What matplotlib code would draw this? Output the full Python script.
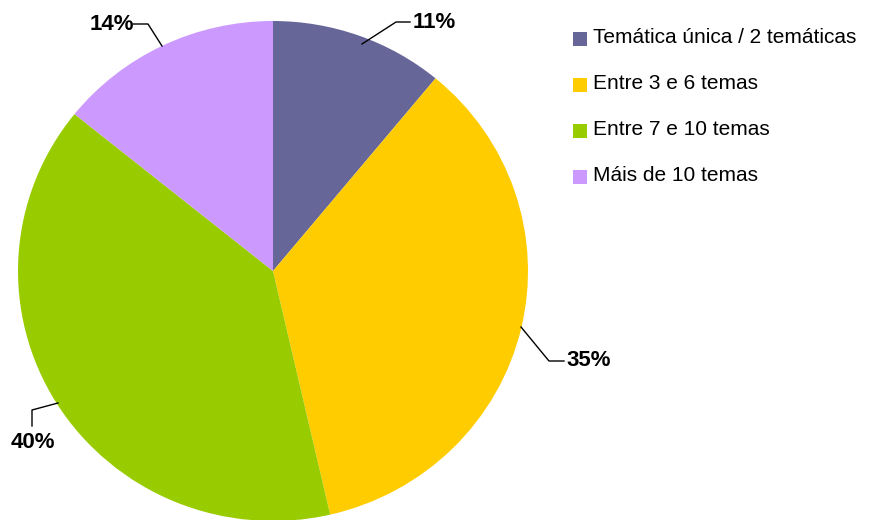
import matplotlib.pyplot as plt
from matplotlib.patches import Rectangle

plt.rcParams['font.family'] = ['Liberation Sans', 'DejaVu Sans']

categories = ["Temática única / 2 temáticas", "Entre 3 e 6 temas",
              "Entre 7 e 10 temas", "Máis de 10 temas"]
values = [11.0, 35.4, 39.4, 14.2]
pct_labels = ["11%", "35%", "40%", "14%"]
colors = ["#666699", "#FFCC00", "#99CC00", "#CC99FF"]

# label text position and leader line points (pixels, y from top)
label_pos = [(434, 22), (588.5, 361), (32.5, 443), (111.5, 24)]
leaders = [
    [(362, 44), (396, 22), (410, 22)],
    [(521, 327), (549, 361), (564, 361)],
    [(58, 403), (32, 410), (32, 426)],
    [(162, 46), (148, 24), (133, 24)],
]

W, H = 883, 520
fig = plt.figure(figsize=(W / 100, H / 100), dpi=100)

# pie axes (slightly elliptical like the original): x 18..528, y 21..521 from top
pax = fig.add_axes([18 / W, (H - 521) / H, 510 / W, 500 / H])
pax.pie(values, colors=colors, startangle=90, counterclock=False,
        radius=1, wedgeprops=dict(linewidth=0))
pax.set_aspect('auto')
pax.set_xlim(-1, 1)
pax.set_ylim(-1, 1)
pax.axis('off')
for p in pax.patches:
    p.set_clip_on(False)

ax = fig.add_axes([0, 0, 1, 1])
ax.set_xlim(0, W)
ax.set_ylim(0, H)
ax.axis('off')

for lab, (tx, ty), pts in zip(pct_labels, label_pos, leaders):
    xs = [p[0] for p in pts]
    ys = [H - p[1] for p in pts]
    ax.plot(xs, ys, color="black", lw=1)
    ax.text(tx, H - ty, lab, ha="center", va="center",
            fontsize=16, fontweight="bold")

# legend
for i, (lab, c) in enumerate(zip(categories, colors)):
    y = 38.5 + i * 46
    ax.add_patch(Rectangle((573, H - y - 7), 14, 14, facecolor=c, edgecolor="none"))
    ax.text(593, H - y + 1, lab, ha="left", va="center", fontsize=15)

fig.savefig("out.png", dpi=100)
